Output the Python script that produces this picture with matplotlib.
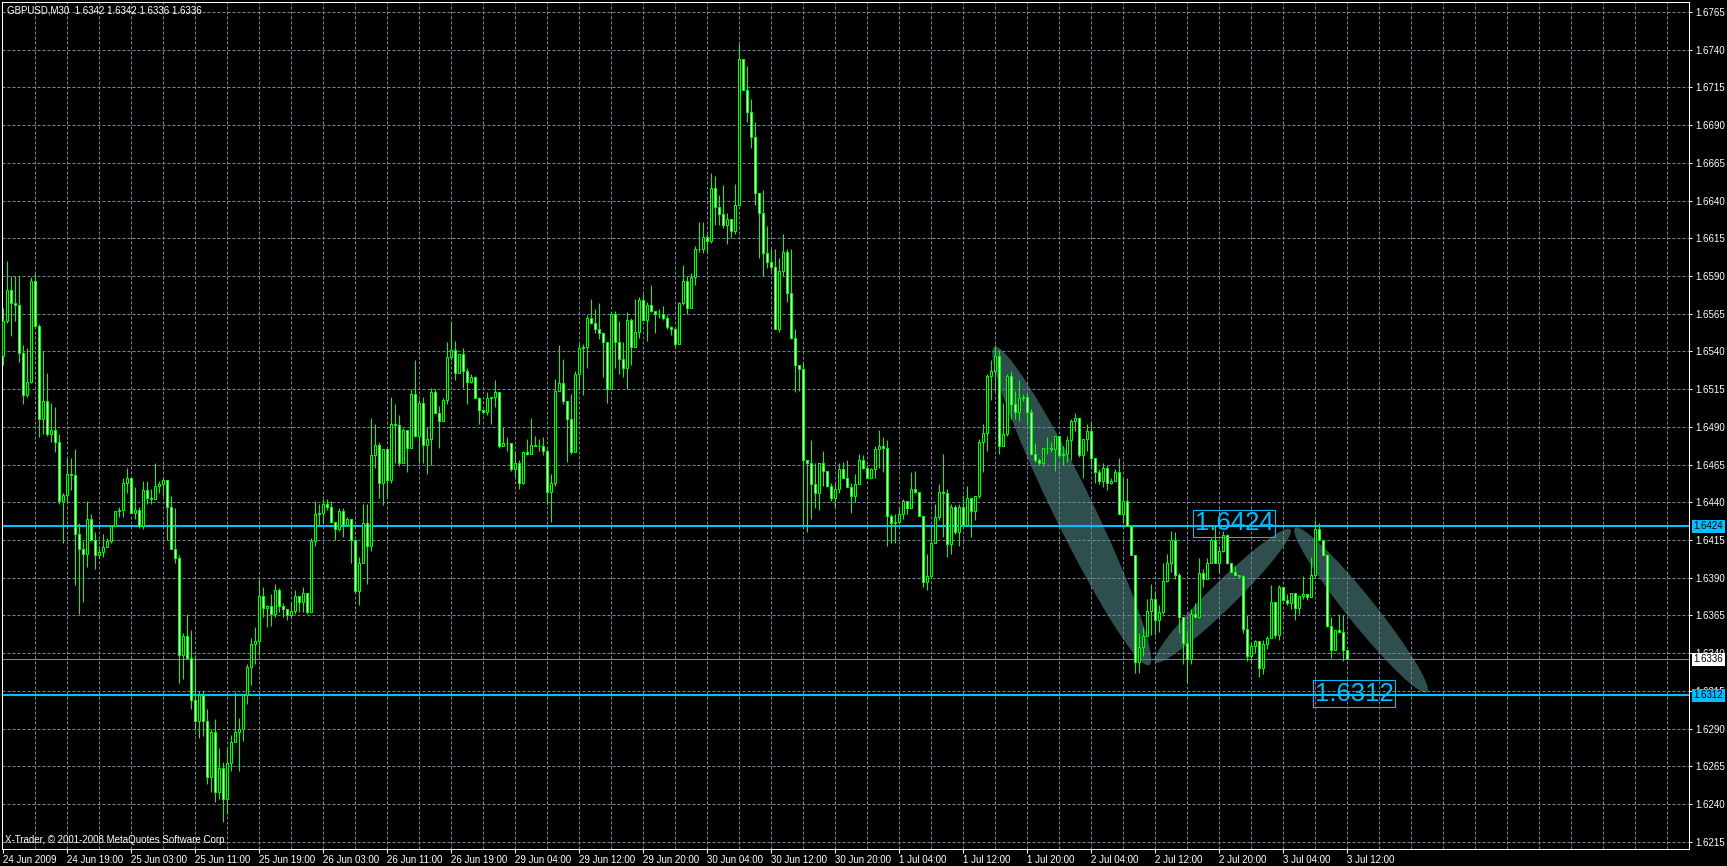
import numpy as np
import matplotlib.pyplot as plt
from matplotlib.patches import Ellipse
from matplotlib.transforms import IdentityTransform, blended_transform_factory

plt.rcParams['font.family'] = ['Liberation Sans', 'DejaVu Sans']

# GBPUSD M30, 24 Jun 2009 11:00 -> 3 Jul 2009 12:00
title = "GBPUSD,M30  1.6342 1.6342 1.6336 1.6336"
first_open = 1.6537

closes = [
    1.6560, 1.6581, 1.6572, 1.6571, 1.6539, 1.6511, 1.6520, 1.6587, 1.6557, 1.6495,
    1.6507, 1.6485, 1.6488, 1.6480, 1.6441, 1.6445, 1.6459, 1.6458, 1.6419, 1.6409,
    1.6406, 1.6429, 1.6415, 1.6405, 1.6407, 1.6410, 1.6414, 1.6424, 1.6434, 1.6435,
    1.6453, 1.6456, 1.6433, 1.6435, 1.6424, 1.6448, 1.6443, 1.6442, 1.6451, 1.6452,
    1.6455, 1.6437, 1.6409, 1.6403, 1.6339, 1.6351, 1.6337, 1.6309, 1.6295, 1.6312,
    1.6295, 1.6258, 1.6288, 1.6248, 1.6264, 1.6243, 1.6267, 1.6281, 1.6288, 1.6290,
    1.6312, 1.6331, 1.6346, 1.6348, 1.6378, 1.6370, 1.6371, 1.6366, 1.6382, 1.6371,
    1.6369, 1.6365, 1.6368, 1.6378, 1.6374, 1.6380, 1.6367, 1.6414, 1.6432, 1.6433,
    1.6439, 1.6437, 1.6427, 1.6422, 1.6434, 1.6425, 1.6429, 1.6415, 1.6381, 1.6400,
    1.6426, 1.6411, 1.6471, 1.6478, 1.6453, 1.6475, 1.6455, 1.6492, 1.6491, 1.6466,
    1.6488, 1.6476, 1.6512, 1.6484, 1.6506, 1.6478, 1.6482, 1.6513, 1.6499, 1.6494,
    1.6508, 1.6536, 1.6541, 1.6526, 1.6538, 1.6527, 1.6520, 1.6523, 1.6509, 1.6501,
    1.6500, 1.6509, 1.6510, 1.6513, 1.6477, 1.6479, 1.6479, 1.6462, 1.6466, 1.6453,
    1.6473, 1.6472, 1.6478, 1.6477, 1.6477, 1.6474, 1.6447, 1.6453, 1.6514, 1.6519,
    1.6507, 1.6495, 1.6473, 1.6525, 1.6542, 1.6543, 1.6562, 1.6559, 1.6555, 1.6552,
    1.6546, 1.6515, 1.6565, 1.6546, 1.6535, 1.6529, 1.6561, 1.6543, 1.6553, 1.6574,
    1.6561, 1.6571, 1.6567, 1.6565, 1.6565, 1.6562, 1.6556, 1.6555, 1.6545, 1.6572,
    1.6587, 1.6569, 1.6589, 1.6608, 1.6608, 1.6616, 1.6613, 1.6648, 1.6636, 1.6631,
    1.6624, 1.6628, 1.6620, 1.6637, 1.6734, 1.6713, 1.6699, 1.6682, 1.6645, 1.6632,
    1.6605, 1.6599, 1.6596, 1.6555, 1.6593, 1.6606, 1.6579, 1.6549, 1.6531, 1.6528,
    1.6468, 1.6466, 1.6452, 1.6446, 1.6466, 1.6461, 1.6451, 1.6443, 1.6449, 1.6462,
    1.6456, 1.6450, 1.6444, 1.6452, 1.6468, 1.6463, 1.6456, 1.6462, 1.6475, 1.6477,
    1.6476, 1.6431, 1.6426, 1.6427, 1.6432, 1.6441, 1.6436, 1.6449, 1.6447, 1.6431,
    1.6387, 1.6391, 1.6413, 1.6430, 1.6447, 1.6446, 1.6412, 1.6437, 1.6420, 1.6437,
    1.6425, 1.6443, 1.6434, 1.6444, 1.6480, 1.6486, 1.6524, 1.6527, 1.6537, 1.6477,
    1.6485, 1.6524, 1.6505, 1.6500, 1.6509, 1.6510, 1.6500, 1.6472, 1.6468, 1.6466,
    1.6476, 1.6476, 1.6475, 1.6484, 1.6471, 1.6472, 1.6481, 1.6494, 1.6496, 1.6471,
    1.6482, 1.6487, 1.6469, 1.6460, 1.6454, 1.6463, 1.6453, 1.6454, 1.6460, 1.6432,
    1.6441, 1.6424, 1.6405, 1.6334, 1.6344, 1.6351, 1.6368, 1.6376, 1.6362, 1.6367,
    1.6388, 1.6400, 1.6415, 1.6392, 1.6364, 1.6347, 1.6336, 1.6366, 1.6364, 1.6393,
    1.6389, 1.6400, 1.6415, 1.6400, 1.6408, 1.6418, 1.6400, 1.6394, 1.6392, 1.6391,
    1.6356, 1.6338, 1.6345, 1.6348, 1.6330, 1.6346, 1.6350, 1.6374, 1.6352, 1.6384,
    1.6375, 1.6373, 1.6380, 1.6370, 1.6378, 1.6379, 1.6377, 1.6392, 1.6422, 1.6415,
    1.6405, 1.6358, 1.6342, 1.6355, 1.6354, 1.6342, 1.6336,
]

highs = [
    1.6569, 1.6600, 1.6590, 1.6590, 1.6590, 1.6544, 1.6542, 1.6589, 1.6592, 1.6558,
    1.6540, 1.6526, 1.6506, 1.6503, 1.6485, 1.6446, 1.6469, 1.6469, 1.6475, 1.6426,
    1.6414, 1.6441, 1.6432, 1.6420, 1.6411, 1.6419, 1.6416, 1.6424, 1.6434, 1.6437,
    1.6456, 1.6463, 1.6455, 1.6450, 1.6437, 1.6454, 1.6454, 1.6449, 1.6466, 1.6454,
    1.6456, 1.6454, 1.6444, 1.6436, 1.6405, 1.6353, 1.6366, 1.6355, 1.6339, 1.6315,
    1.6315, 1.6303, 1.6290, 1.6296, 1.6277, 1.6268, 1.6277, 1.6286, 1.6314, 1.6297,
    1.6313, 1.6333, 1.6350, 1.6357, 1.6389, 1.6384, 1.6372, 1.6379, 1.6386, 1.6383,
    1.6373, 1.6369, 1.6374, 1.6382, 1.6378, 1.6384, 1.6379, 1.6416, 1.6441, 1.6439,
    1.6442, 1.6442, 1.6441, 1.6427, 1.6436, 1.6436, 1.6430, 1.6428, 1.6414, 1.6404,
    1.6439, 1.6439, 1.6496, 1.6492, 1.6480, 1.6475, 1.6473, 1.6510, 1.6505, 1.6498,
    1.6489, 1.6486, 1.6515, 1.6534, 1.6508, 1.6510, 1.6490, 1.6516, 1.6515, 1.6504,
    1.6509, 1.6546, 1.6560, 1.6547, 1.6538, 1.6542, 1.6529, 1.6525, 1.6524, 1.6510,
    1.6501, 1.6513, 1.6510, 1.6521, 1.6512, 1.6490, 1.6483, 1.6479, 1.6474, 1.6468,
    1.6474, 1.6482, 1.6496, 1.6484, 1.6482, 1.6483, 1.6475, 1.6459, 1.6522, 1.6544,
    1.6535, 1.6506, 1.6512, 1.6527, 1.6545, 1.6545, 1.6564, 1.6575, 1.6568, 1.6572,
    1.6553, 1.6546, 1.6566, 1.6567, 1.6560, 1.6546, 1.6566, 1.6562, 1.6575, 1.6576,
    1.6578, 1.6573, 1.6584, 1.6567, 1.6568, 1.6570, 1.6564, 1.6557, 1.6556, 1.6573,
    1.6597, 1.6590, 1.6592, 1.6610, 1.6626, 1.6626, 1.6618, 1.6658, 1.6656, 1.6644,
    1.6650, 1.6632, 1.6624, 1.6651, 1.6744, 1.6734, 1.6729, 1.6707, 1.6692, 1.6645,
    1.6647, 1.6623, 1.6608, 1.6608, 1.6602, 1.6618, 1.6608, 1.6608, 1.6555, 1.6531,
    1.6532, 1.6468, 1.6481, 1.6466, 1.6466, 1.6474, 1.6460, 1.6453, 1.6453, 1.6466,
    1.6467, 1.6468, 1.6453, 1.6459, 1.6472, 1.6471, 1.6465, 1.6463, 1.6477, 1.6488,
    1.6483, 1.6481, 1.6432, 1.6432, 1.6437, 1.6442, 1.6440, 1.6460, 1.6461, 1.6447,
    1.6430, 1.6406, 1.6424, 1.6439, 1.6452, 1.6472, 1.6449, 1.6439, 1.6438, 1.6439,
    1.6445, 1.6451, 1.6443, 1.6444, 1.6482, 1.6492, 1.6525, 1.6534, 1.6544, 1.6541,
    1.6506, 1.6525, 1.6527, 1.6514, 1.6521, 1.6512, 1.6512, 1.6502, 1.6479, 1.6469,
    1.6476, 1.6483, 1.6480, 1.6484, 1.6482, 1.6477, 1.6484, 1.6495, 1.6499, 1.6488,
    1.6482, 1.6492, 1.6494, 1.6469, 1.6462, 1.6466, 1.6465, 1.6456, 1.6462, 1.6469,
    1.6456, 1.6456, 1.6425, 1.6405, 1.6353, 1.6357, 1.6376, 1.6386, 1.6381, 1.6372,
    1.6400, 1.6406, 1.6421, 1.6420, 1.6393, 1.6364, 1.6355, 1.6369, 1.6373, 1.6403,
    1.6396, 1.6403, 1.6416, 1.6424, 1.6411, 1.6421, 1.6419, 1.6400, 1.6398, 1.6392,
    1.6392, 1.6365, 1.6347, 1.6349, 1.6346, 1.6349, 1.6351, 1.6385, 1.6373, 1.6385,
    1.6384, 1.6379, 1.6380, 1.6373, 1.6378, 1.6391, 1.6378, 1.6404, 1.6428, 1.6426,
    1.6415, 1.6406, 1.6364, 1.6355, 1.6366, 1.6365, 1.6342,
]

lows = [
    1.6531, 1.6559, 1.6550, 1.6560, 1.6533, 1.6505, 1.6510, 1.6519, 1.6557, 1.6483,
    1.6485, 1.6484, 1.6480, 1.6473, 1.6439, 1.6413, 1.6440, 1.6448, 1.6385, 1.6366,
    1.6374, 1.6397, 1.6414, 1.6396, 1.6403, 1.6404, 1.6411, 1.6413, 1.6425, 1.6430,
    1.6430, 1.6446, 1.6433, 1.6429, 1.6423, 1.6422, 1.6439, 1.6439, 1.6442, 1.6446,
    1.6444, 1.6415, 1.6409, 1.6400, 1.6320, 1.6323, 1.6337, 1.6303, 1.6289, 1.6284,
    1.6285, 1.6253, 1.6248, 1.6241, 1.6243, 1.6228, 1.6233, 1.6262, 1.6281, 1.6262,
    1.6282, 1.6306, 1.6319, 1.6333, 1.6339, 1.6364, 1.6357, 1.6358, 1.6364, 1.6367,
    1.6364, 1.6362, 1.6363, 1.6366, 1.6367, 1.6367, 1.6366, 1.6373, 1.6411, 1.6425,
    1.6426, 1.6435, 1.6426, 1.6415, 1.6421, 1.6417, 1.6424, 1.6400, 1.6380, 1.6372,
    1.6400, 1.6386, 1.6408, 1.6463, 1.6443, 1.6438, 1.6443, 1.6453, 1.6466, 1.6464,
    1.6466, 1.6460, 1.6476, 1.6483, 1.6467, 1.6466, 1.6459, 1.6465, 1.6499, 1.6476,
    1.6494, 1.6505, 1.6534, 1.6521, 1.6526, 1.6516, 1.6505, 1.6519, 1.6509, 1.6492,
    1.6499, 1.6498, 1.6492, 1.6503, 1.6476, 1.6477, 1.6474, 1.6461, 1.6457, 1.6449,
    1.6452, 1.6471, 1.6472, 1.6477, 1.6474, 1.6471, 1.6439, 1.6427, 1.6451, 1.6515,
    1.6505, 1.6467, 1.6472, 1.6474, 1.6515, 1.6511, 1.6529, 1.6558, 1.6552, 1.6548,
    1.6523, 1.6506, 1.6515, 1.6529, 1.6525, 1.6523, 1.6515, 1.6531, 1.6543, 1.6549,
    1.6561, 1.6547, 1.6566, 1.6552, 1.6562, 1.6561, 1.6555, 1.6551, 1.6543, 1.6545,
    1.6571, 1.6565, 1.6569, 1.6584, 1.6606, 1.6605, 1.6606, 1.6612, 1.6624, 1.6624,
    1.6622, 1.6611, 1.6615, 1.6618, 1.6637, 1.6713, 1.6692, 1.6675, 1.6637, 1.6602,
    1.6590, 1.6595, 1.6593, 1.6555, 1.6553, 1.6590, 1.6573, 1.6548, 1.6513, 1.6514,
    1.6425, 1.6420, 1.6429, 1.6436, 1.6435, 1.6451, 1.6450, 1.6441, 1.6436, 1.6446,
    1.6456, 1.6450, 1.6433, 1.6440, 1.6452, 1.6462, 1.6456, 1.6456, 1.6456, 1.6463,
    1.6460, 1.6411, 1.6413, 1.6413, 1.6426, 1.6429, 1.6432, 1.6436, 1.6446, 1.6431,
    1.6384, 1.6382, 1.6391, 1.6413, 1.6428, 1.6417, 1.6404, 1.6406, 1.6419, 1.6411,
    1.6424, 1.6424, 1.6417, 1.6428, 1.6443, 1.6460, 1.6474, 1.6508, 1.6514, 1.6472,
    1.6478, 1.6484, 1.6495, 1.6495, 1.6494, 1.6507, 1.6491, 1.6471, 1.6467, 1.6465,
    1.6464, 1.6472, 1.6473, 1.6461, 1.6469, 1.6465, 1.6467, 1.6468, 1.6487, 1.6470,
    1.6456, 1.6474, 1.6463, 1.6453, 1.6452, 1.6450, 1.6448, 1.6452, 1.6454, 1.6432,
    1.6427, 1.6424, 1.6405, 1.6327, 1.6327, 1.6338, 1.6353, 1.6352, 1.6352, 1.6354,
    1.6366, 1.6387, 1.6394, 1.6389, 1.6353, 1.6333, 1.6321, 1.6333, 1.6364, 1.6363,
    1.6384, 1.6389, 1.6400, 1.6400, 1.6393, 1.6407, 1.6399, 1.6394, 1.6392, 1.6390,
    1.6353, 1.6335, 1.6334, 1.6340, 1.6324, 1.6326, 1.6343, 1.6350, 1.6350, 1.6349,
    1.6375, 1.6372, 1.6369, 1.6362, 1.6366, 1.6376, 1.6375, 1.6379, 1.6390, 1.6414,
    1.6405, 1.6357, 1.6337, 1.6342, 1.6353, 1.6335, 1.6336,
]

date_labels = [
    "24 Jun 2009", "24 Jun 19:00", "25 Jun 03:00", "25 Jun 11:00", "25 Jun 19:00",
    "26 Jun 03:00", "26 Jun 11:00", "26 Jun 19:00", "29 Jun 04:00", "29 Jun 12:00",
    "29 Jun 20:00", "30 Jun 04:00", "30 Jun 12:00", "30 Jun 20:00", "1 Jul 04:00",
    "1 Jul 12:00", "1 Jul 20:00", "2 Jul 04:00", "2 Jul 12:00", "2 Jul 20:00",
    "3 Jul 04:00", "3 Jul 12:00",
]

levels = [1.6424, 1.6312]
bid = 1.6336
# drawn ellipses: two anchor points (bar, price) and the thickness in pixels
ellipse_a = [(247.7, 1.6543), (287.9, 1.6334), (322.9, 1.6423)]
ellipse_b = [(286.4, 1.6332), (321.7, 1.6422), (355.9, 1.6314)]
ellipse_w = [40, 26, 28]
# price text objects (top-left corner)
level_text_at = [(297.8, 1.6434), (327.8, 1.6321)]

LIME = '#00ff00'
CYAN = '#00bfff'
GRID = '#778899'
SLATE = '#2f4f4f'

W, H = 1727, 866
fig = plt.figure(figsize=(W / 100, H / 100), dpi=100, facecolor='black')
ax = fig.add_axes([2 / W, 1 - 849 / H, 1687 / W, 847 / H], facecolor='black')
ax.set_xlim(-0.375, 421.375)
ax.set_ylim(1.621012, 1.677163)

# grid
for p in np.arange(1.6215, 1.6766, 0.0025):
    ax.axhline(p, color=GRID, lw=0.72, ls=(0, (3, 2)), zorder=1)
for k in range(8, 422, 8):
    ax.axvline(k, color=GRID, lw=0.72, ls=(0, (3, 2)), zorder=1)

# ellipses, drawn in pixel space so they keep their shape
for a, b, w in zip(ellipse_a, ellipse_b, ellipse_w):
    pa = ax.transData.transform(a)
    pb = ax.transData.transform(b)
    d = pb - pa
    e = Ellipse((pa + pb) / 2, np.hypot(*d), w, angle=np.degrees(np.arctan2(d[1], d[0])),
                facecolor=SLATE, edgecolor='none', transform=IdentityTransform(), zorder=0.8)
    ax.add_patch(e)

# horizontal lines
for lv in levels:
    ax.axhline(lv, color=CYAN, lw=1.5, zorder=2)
ax.axhline(bid, color=GRID, lw=0.72, zorder=2)

# candles
c = np.array(closes)
o = np.array([first_open] + closes[:-1])
hi = np.maximum(np.array(highs), np.maximum(o, c))
lo = np.minimum(np.array(lows), np.minimum(o, c))
idx = np.arange(len(c))
ax.vlines(idx, lo, hi, color=LIME, lw=0.75, zorder=3)
fill = np.where(c >= o, 'black', 'white')
ax.bar(idx, np.abs(c - o), width=0.5, bottom=np.minimum(o, c), color=fill,
       edgecolor=LIME, linewidth=0.75, zorder=4)

# price text objects
for (bx, py), lv in zip(level_text_at, levels):
    ax.text(bx, py, f"{lv:.4f}", color=CYAN, fontsize=18.5, ha='left', va='top', zorder=6,
            bbox=dict(boxstyle='square,pad=0.06', facecolor='none', edgecolor=CYAN, lw=0.75))

# axes frame and ticks
for s in ax.spines.values():
    s.set_color('white')
    s.set_linewidth(0.75)
ax.yaxis.tick_right()
yt = np.arange(1.6215, 1.6766, 0.0025)
ax.set_yticks(yt, [f"{v:.4f}" for v in yt])
ax.tick_params(axis='y', colors='white', labelsize=7, length=2.2, width=0.72, pad=2.5)
ax.set_xticks(np.arange(0, 16 * len(date_labels), 16), date_labels)
ax.tick_params(axis='x', colors='white', labelsize=7, length=3, width=0.72, pad=1.5)
for lab in ax.get_xticklabels():
    lab.set_ha('left')

# price tags on the right scale
tr = blended_transform_factory(ax.transAxes, ax.transData)
for lv, fc in [(levels[0], CYAN), (bid, 'white'), (levels[1], CYAN)]:
    ax.text(1.0028, lv, f"{lv:.4f}", transform=tr, color='black', fontsize=7, ha='left',
            va='center', clip_on=False, zorder=10,
            bbox=dict(boxstyle='square,pad=0.15', facecolor=fc, edgecolor='none'))

ax.text(0.0028, 0.9894, title, transform=ax.transAxes, color='white', fontsize=7,
        ha='left', va='center', zorder=10)
ax.text(0.0015, 0.0106, "X-Trader, \u00a9 2001-2008 MetaQuotes Software Corp.",
        transform=ax.transAxes, color='white', fontsize=7, ha='left', va='center', zorder=10)

fig.savefig('out.png', dpi=100, facecolor='black')
